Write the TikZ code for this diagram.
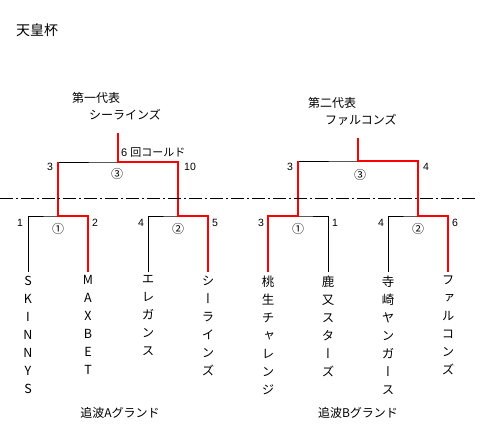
\documentclass[tikz,border=0pt]{standalone}
\usepackage{fontspec}
\setmainfont{Noto Sans CJK JP}
\newfontfamily\numfont{Liberation Sans}
\newfontfamily\tatefont[RawFeature=+vert]{Noto Sans CJK JP}

\begin{document}
\begin{tikzpicture}[
  x=1pt, y=-1pt,
  team/.style={anchor=north, align=center, inner xsep=0pt, inner ysep=3.5pt, font=\tatefont\fontsize{12.5}{18}\selectfont},
  lab/.style={anchor=west, inner sep=0pt, font=\fontsize{12}{14}\selectfont},
  ground/.style={inner sep=0pt, font=\fontsize{12}{14}\selectfont},
  num/.style={inner sep=0pt, font=\numfont\fontsize{10.5}{12}\selectfont},
  rnd/.style={inner sep=0pt, font=\fontsize{12}{14}\selectfont},
  brk/.style={line width=1pt},
  win/.style={draw=red, line width=2pt}
]
\useasboundingbox (0,0) rectangle (497,440);

\node[lab, font=\fontsize{14}{16}\selectfont] (title) at (16,30) {天皇杯};

% teams, written top to bottom
\node[team] (t1) at (28,272) {S\\K\\I\\N\\N\\Y\\S};
\node[team] (t2) at (88,272) {M\\A\\X\\B\\E\\T};
\node[team] (t3) at (148,272) {エ\\レ\\ガ\\ン\\ス};
\node[team] (t4) at (208,272) {シ\\ー\\ラ\\イ\\ン\\ズ};
\node[team] (t5) at (268,272) {桃\\生\\チ\\ャ\\レ\\ン\\ジ};
\node[team] (t6) at (328,272) {鹿\\又\\ス\\タ\\ー\\ズ};
\node[team] (t7) at (388,272) {寺\\崎\\ヤ\\ン\\ガ\\ー\\ス};
\node[team] (t8) at (448,272) {フ\\ァ\\ル\\コ\\ン\\ズ};

\node[ground] (ga) at (120,413) {追波Aグランド};
\node[ground] (gb) at (358,413) {追波Bグランド};

% bracket junctions
\coordinate (a1) at (58,216);
\coordinate (a2) at (178,216);
\coordinate (af) at (118,162);
\coordinate (aw) at (118,133);
\coordinate (b1) at (298,216);
\coordinate (b2) at (418,216);
\coordinate (bf) at (358,161);
\coordinate (bw) at (358,138);

% brackets
\draw[brk] (t1.north) |- (a1) -| (t2.north);
\draw[brk] (t3.north) |- (a2) -| (t4.north);
\draw[brk] (a1) |- (af) -| (a2);
\draw[brk] (t5.north) |- (b1) -| (t6.north);
\draw[brk] (t7.north) |- (b2) -| (t8.north);
\draw[brk] (b1) |- (bf) -| (b2);

% winners
\draw[win] (t2.north) |- (a1) -- (a1 |- af);
\draw[win] (aw) -- (af) -| (a2) -| (t4.north);
\draw[win] (t5.north) |- (b1) -- (b1 |- bf);
\draw[win] (bw) -- (bf) -| (b2) -| (t8.north);

% scores
\node[num] (s1) at (20,223) {1};
\node[num] (s2) at (95,223) {2};
\node[num] (s3) at (141,223) {4};
\node[num] (s4) at (215,223) {5};
\node[num] (s5) at (261,223) {3};
\node[num] (s6) at (335,223) {1};
\node[num] (s7) at (381,223) {4};
\node[num] (s8) at (455,223) {6};
\node[num] (sa1) at (50,167) {3};
\node[num] (sa2) at (190,167) {10};
\node[num] (sb1) at (290,167) {3};
\node[num] (sb2) at (426,167) {4};
\node[lab, font=\fontsize{11}{13}\selectfont] (cold) at (121,153) {\numfont 6 \rmfamily 回コールド};

% game numbers
\node[rnd] (g1) at (58,229) {①};
\node[rnd] (g2) at (178,229) {②};
\node[rnd] (g3) at (117,174) {③};
\node[rnd] (g4) at (298,229) {①};
\node[rnd] (g5) at (418,229) {②};
\node[rnd] (g6) at (360,175) {③};

% representatives
\node[lab] (rep1) at (72,98) {第一代表};
\node[lab] (win1) at (89,115) {シーラインズ};
\node[lab] (rep2) at (308,103) {第二代表};
\node[lab] (win2) at (325,120) {ファルコンズ};

% field border
\coordinate (d0) at (0,198);
\coordinate (d1) at (477,198);
\draw[dash pattern=on 13pt off 3pt on 2pt off 3pt] (d0) -- (d1);
\end{tikzpicture}
\end{document}
